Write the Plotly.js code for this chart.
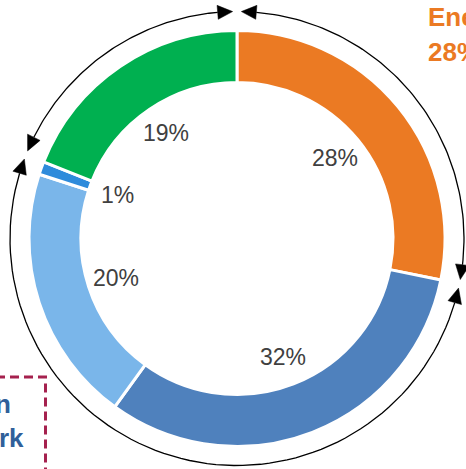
<!DOCTYPE html>
<html>
<head>
<meta charset="utf-8">
<script src="https://cdn.plot.ly/plotly-3.0.1.min.js"></script>
<style>html,body{margin:0;padding:0;background:#fff;}#chart{width:466px;height:469px;}</style>
</head>
<body>
<div id="chart"></div>
<script>
// ---- data ----
const categories = ["Energy", "Segment 2", "Segment 3", "Segment 4", "Segment 5"];
const values = [28.2, 31.8, 20.0, 1.0, 19.0];
const valueLabels = ["28%", "32%", "20%", "1%", "19%"];
const colors = ["#EB7A23", "#4F81BD", "#7AB6EA", "#2E8BDB", "#00B050"];
const arrowGroups = [[0], [1, 2, 3], [4]];
const calloutTop = ["Energy", "28%"];
const calloutBottom = ["n", "rk"];

// ---- geometry (pixel space) ----
const W = 466, H = 469;
const cx = 237, cy = 238.5;
const outerR = 208;
const arcR = 227;
const labelR = 127;
const gapDeg = 1.1;
const headLen = 15, headWid = 14;

const total = values.reduce((a, b) => a + b, 0);
const cum = [0];
values.forEach(v => cum.push(cum[cum.length - 1] + v));
const angOf = c => c / total * 360;   // degrees clockwise from top
const pt = (deg, r) => {
  const t = deg * Math.PI / 180;
  return [cx + r * Math.sin(t), cy - r * Math.cos(t)];
};

// arcs + arrowheads
const arcX = [], arcY = [], headX = [], headY = [];
arrowGroups.forEach(g => {
  const a0 = angOf(cum[g[0]]) + gapDeg;
  const a1 = angOf(cum[g[g.length - 1] + 1]) - gapDeg;
  const dA = headLen / arcR * 180 / Math.PI;
  const b0 = a0 + dA, b1 = a1 - dA;
  const n = 80;
  for (let i = 0; i <= n; i++) {
    const p = pt(b0 + (b1 - b0) * i / n, arcR);
    arcX.push(p[0]); arcY.push(p[1]);
  }
  arcX.push(null); arcY.push(null);
  [[a0, b0], [a1, b1]].forEach(([tip, base]) => {
    const t = pt(tip, arcR);
    const c1 = pt(base, arcR - headWid / 2);
    const c2 = pt(base, arcR + headWid / 2);
    headX.push(t[0], c1[0], c2[0], t[0], null);
    headY.push(t[1], c1[1], c2[1], t[1], null);
  });
});

// percentage labels
const annotations = values.map((v, i) => {
  const p = pt(angOf(cum[i] + v / 2), labelR);
  return {x: p[0], y: p[1], xref: 'x', yref: 'y', text: valueLabels[i], showarrow: false,
    font: {family: 'Arial, Liberation Sans, sans-serif', size: 23, color: '#404040'}};
});
annotations.push(
  {x: 426, y: 17, xref: 'x', yref: 'y', xanchor: 'left', yanchor: 'middle', text: '<b>' + calloutTop[0] + '</b>', showarrow: false,
   font: {family: 'Arial, Liberation Sans, sans-serif', size: 26, color: '#EB7A23'}},
  {x: 426, y: 52, xref: 'x', yref: 'y', xanchor: 'left', yanchor: 'middle', text: '<b>' + calloutTop[1] + '</b>', showarrow: false,
   font: {family: 'Arial, Liberation Sans, sans-serif', size: 26, color: '#EB7A23'}},
  {x: 13, y: 404, xref: 'x', yref: 'y', xanchor: 'right', yanchor: 'middle', text: '<b>' + calloutBottom[0] + '</b>', showarrow: false,
   font: {family: 'Arial, Liberation Sans, sans-serif', size: 26, color: '#30609A'}},
  {x: 26, y: 438, xref: 'x', yref: 'y', xanchor: 'right', yanchor: 'middle', text: '<b>' + calloutBottom[1] + '</b>', showarrow: false,
   font: {family: 'Arial, Liberation Sans, sans-serif', size: 26, color: '#30609A'}}
);

const traces = [
  {
    type: 'pie', labels: categories, values: values, sort: false, direction: 'clockwise', rotation: 0,
    hole: 0.75, textinfo: 'none', hoverinfo: 'none', showlegend: false,
    marker: {colors: colors, line: {color: '#ffffff', width: 3}},
    domain: {x: [(cx - outerR) / W, (cx + outerR) / W], y: [(H - cy - outerR) / H, (H - cy + outerR) / H]}
  },
  {type: 'scatter', mode: 'lines', x: arcX, y: arcY, line: {color: '#000000', width: 1.3}, hoverinfo: 'skip', showlegend: false},
  {type: 'scatter', mode: 'lines', x: headX, y: headY, fill: 'toself', fillcolor: '#000000', line: {color: '#000000', width: 0.5}, hoverinfo: 'skip', showlegend: false}
];

const layout = {
  width: W, height: H, margin: {l: 0, r: 0, t: 0, b: 0},
  paper_bgcolor: '#ffffff', plot_bgcolor: 'rgba(0,0,0,0)',
  xaxis: {range: [0, W], visible: false, fixedrange: true, domain: [0, 1]},
  yaxis: {range: [H, 0], visible: false, fixedrange: true, domain: [0, 1]},
  showlegend: false,
  annotations: annotations,
  shapes: [{type: 'path', xref: 'x', yref: 'y', path: 'M -4 377 L 45.5 377 L 45.5 480',
    line: {color: '#A5214E', width: 3, dash: '9px,5px'}}]
};

Plotly.newPlot('chart', traces, layout, {staticPlot: true, displayModeBar: false});
</script>
</body>
</html>
